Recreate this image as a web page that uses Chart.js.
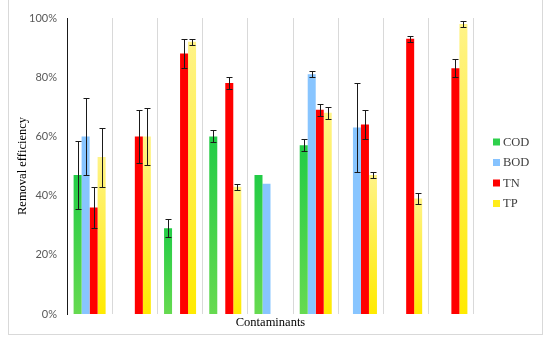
<!DOCTYPE html>
<html>
<head>
<meta charset="utf-8">
<script src="https://cdn.jsdelivr.net/npm/chart.js@4/dist/chart.umd.min.js"></script>
<style>
  html, body { margin: 0; padding: 0; background: #fff; }
  #wrap { width: 550px; height: 340px; position: relative; }
</style>
</head>
<body>
<div id="wrap"><canvas id="c" width="550" height="340"></canvas></div>
<script>
// ---- data (percent) ----
const categories = ['1', '2', '3', '4', '5', '6', '7', '8', '9'];
const seriesNames = ['COD', 'BOD', 'TN', 'TP'];
const codValues = [47, null, 29, 60, 47, 57, null, null, null];
const codErrors = [11.5, 0, 3, 2, 0, 2, 0, 0, 0];
const bodValues = [60, null, null, null, 44, 81, 63, null, null];
const bodErrors = [13, 0, 0, 0, 0, 1, 15, 0, 0];
const tnValues  = [36, 60, 88, 78, null, 69, 64, 93, 83];
const tnErrors  = [7, 9, 5, 2, 0, 2, 5, 1, 3];
const tpValues  = [53, 60, 92, 43, null, 68, 47, 39, 98];
const tpErrors  = [10, 9.5, 1, 1, 0, 2, 1, 2, 1];
const yTicks = [0, 20, 40, 60, 80, 100];

const errorSets = [codErrors, bodErrors, tnErrors, tpErrors];

function barGradient(top, bottom, solid) {
  return function (ctx) {
    const chart = ctx.chart;
    const ys = chart.scales && chart.scales.y;
    if (!ys || ctx.raw == null || ctx.type !== 'data') return solid;
    const yTop = ys.getPixelForValue(ctx.raw);
    const yBase = ys.getPixelForValue(0);
    if (!isFinite(yTop) || !isFinite(yBase) || yTop === yBase) return solid;
    const g = chart.ctx.createLinearGradient(0, yTop, 0, yBase);
    g.addColorStop(0, top);
    g.addColorStop(1, bottom);
    return g;
  };
}

const legendColors = ['#2ed04c', '#86c3ff', '#ff0000', '#ffec1a'];

const errorBarPlugin = {
  id: 'errorBars',
  afterDatasetsDraw(chart) {
    const c = chart.ctx;
    const ys = chart.scales.y;
    c.save();
    c.strokeStyle = '#1a1a1a';
    c.lineWidth = 1;
    chart.data.datasets.forEach((ds, di) => {
      const meta = chart.getDatasetMeta(di);
      const errs = errorSets[di];
      meta.data.forEach((bar, i) => {
        const v = ds.data[i];
        const e = errs[i];
        if (v == null || !e) return;
        const x = Math.round(bar.x) + 0.5;
        const y1 = Math.round(ys.getPixelForValue(v + e)) + 0.5;
        const y2 = Math.round(ys.getPixelForValue(v - e)) + 0.5;
        c.beginPath();
        c.moveTo(x, y1); c.lineTo(x, y2);
        c.moveTo(x - 3, y1); c.lineTo(x + 3, y1);
        c.moveTo(x - 3, y2); c.lineTo(x + 3, y2);
        c.stroke();
      });
    });
    c.restore();
  }
};

const framePlugin = {
  id: 'frame',
  beforeDraw(chart) {
    const c = chart.ctx;
    c.save();
    c.strokeStyle = '#d9d9d9';
    c.lineWidth = 1;
    c.strokeRect(8.5, -5, 534, 339.5);
    c.restore();
  }
};

const legendPlugin = {
  id: 'customLegend',
  afterDraw(chart) {
    const c = chart.ctx;
    const x0 = 493, ys = [142, 162.5, 183, 203.5];
    c.save();
    c.font = '12.5px "Liberation Serif", "Times New Roman", serif';
    c.textBaseline = 'middle';
    c.textAlign = 'left';
    seriesNames.forEach((name, i) => {
      c.fillStyle = legendColors[i];
      c.fillRect(x0, ys[i] - 3.5, 7, 7);
      c.fillStyle = '#404040';
      c.fillText(name, x0 + 10, ys[i] + 0.5);
    });
    c.restore();
  }
};

new Chart(document.getElementById('c'), {
  type: 'bar',
  data: {
    labels: categories,
    datasets: [
      { label: seriesNames[0], data: codValues, backgroundColor: barGradient('#22cc46', '#66da50', '#2ed04c') },
      { label: seriesNames[1], data: bodValues, backgroundColor: '#88c5ff' },
      { label: seriesNames[2], data: tnValues, backgroundColor: '#ff0000' },
      { label: seriesNames[3], data: tpValues, backgroundColor: barGradient('#fff387', '#ffea00', '#ffec1a') }
    ]
  },
  options: {
    responsive: false,
    animation: false,
    devicePixelRatio: 1,
    datasets: { bar: { categoryPercentage: 0.708, barPercentage: 1.0, borderWidth: 0 } },
    layout: { padding: { left: 11, right: 76, top: 18, bottom: 6 } },
    plugins: { legend: { display: false }, tooltip: { enabled: false } },
    scales: {
      x: {
        grid: { display: true, offset: true, color: '#d9d9d9', lineWidth: 1, drawTicks: false },
        border: { display: false },
        ticks: { display: false },
        title: { display: true, text: 'Contaminants', color: '#000',
                 font: { family: '"Liberation Serif", "Times New Roman", serif', size: 12.5 },
                 padding: { top: 4, bottom: 4 } },
        afterFit(s) { s.height = 20; }
      },
      y: {
        min: 0, max: 100,
        afterBuildTicks(s) { s.ticks = yTicks.map(v => ({ value: v })); },
        grid: { display: false, drawTicks: false },
        border: { display: true, color: '#1a1a1a', width: 1 },
        ticks: { color: '#595959', padding: 10,
                 font: { family: 'Lato, "Open Sans", sans-serif', size: 11 },
                 callback: v => v + '%' },
        title: { display: true, text: 'Removal efficiency', color: '#000',
                 font: { family: '"Liberation Serif", "Times New Roman", serif', size: 12.5 },
                 padding: { top: 4, bottom: 4 } },
        afterFit(s) { s.width = 56; }
      }
    }
  },
  plugins: [framePlugin, errorBarPlugin, legendPlugin]
});
</script>
</body>
</html>
